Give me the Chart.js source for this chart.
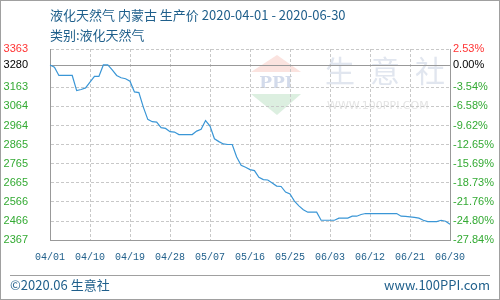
<!DOCTYPE html>
<html><head><meta charset="utf-8">
<script src="https://cdn.jsdelivr.net/npm/chart.js@4"></script>
<style>
html,body{margin:0;padding:0;background:#fff;}
#wrap{position:relative;width:500px;height:300px;overflow:hidden;background:#fff;font-family:"Noto Sans CJK SC",sans-serif;}
#c{position:absolute;left:0;top:0;width:500px;height:300px;}
.t{position:absolute;color:#1f5f8b;font-size:13px;line-height:16px;white-space:nowrap;}
#frame{position:absolute;left:0;top:0;width:498px;height:298px;border:1px solid #a0a0a0;pointer-events:none;}
#sep{position:absolute;left:10px;top:275px;width:480px;height:1px;background:#a0a0a0;}
</style></head><body>
<div id="wrap">
<canvas id="c" width="500" height="300"></canvas>
<div class="t" style="left:50px;top:7px">液化天然气 内蒙古 生产价 2020-04-01 - 2020-06-30</div>
<div class="t" style="left:50px;top:27px">类别:液化天然气</div>
<div id="sep"></div>
<div class="t" style="left:10px;top:277px">©2020.06 生意社</div>
<div class="t" style="right:10px;top:277px">www.100PPI.com</div>
<div id="frame"></div>
</div>
<script>
// daily categories 2020-04-01 .. 2020-06-30
const categories = [];
(function(){
  const d = new Date(2020, 3, 1);
  while (d <= new Date(2020, 5, 30)) {
    const m = String(d.getMonth() + 1).padStart(2, '0');
    const dd = String(d.getDate()).padStart(2, '0');
    categories.push(m + '/' + dd);
    d.setDate(d.getDate() + 1);
  }
})();

const prices = [
  3280, 3268, 3225, 3225, 3225, 3225, 3146, 3152, 3160, 3190,
  3220, 3220, 3280, 3280, 3254, 3225, 3213, 3208, 3195, 3139,
  3136, 3060, 2996, 2984, 2982, 2953, 2949, 2932, 2930, 2917,
  2917, 2917, 2917, 2935, 2944, 2990, 2961, 2895, 2880, 2868,
  2865, 2865, 2800, 2756, 2746, 2734, 2729, 2694, 2682, 2680,
  2664, 2648, 2646, 2617, 2607, 2570, 2545, 2525, 2512, 2512,
  2512, 2470, 2470, 2470, 2470, 2481, 2481, 2481, 2491, 2491,
  2500, 2505, 2505, 2505, 2505, 2505, 2505, 2505, 2505, 2491,
  2490, 2488, 2485, 2481, 2470, 2463, 2463, 2463, 2470, 2465,
  2449
];

const leftTicks = [3363, 3280, 3163, 3064, 2964, 2865, 2765, 2665, 2566, 2466, 2367];
const rightTickLabels = ['2.53%', '0.00%', '-3.54%', '-6.58%', '-9.62%', '-12.65%', '-15.69%', '-18.73%', '-21.76%', '-24.80%', '-27.84%'];
const baseValue = 3280;
const xTickEvery = 9;

const tickColor = v => v === leftTicks[0] ? '#ff3333' : (v === baseValue ? '#000000' : '#33aa33');

const watermark = {
  id: 'watermark',
  beforeDraw(chart) {
    const ctx = chart.ctx;
    ctx.save();
    ctx.fillStyle = '#fff';
    ctx.fillRect(0, 0, chart.width, chart.height);
    // logo
    ctx.fillStyle = '#fbe3df';
    ctx.beginPath(); ctx.moveTo(251, 72); ctx.lineTo(277, 55); ctx.lineTo(301, 72); ctx.closePath(); ctx.fill();
    ctx.fillStyle = '#dcefe0';
    ctx.beginPath(); ctx.moveTo(251, 94); ctx.lineTo(301, 94); ctx.lineTo(277, 115); ctx.closePath(); ctx.fill();
    ctx.fillStyle = '#d3dbeb';
    ctx.font = 'bold 17px "DejaVu Serif", serif';
    ctx.textAlign = 'center'; ctx.textBaseline = 'middle';
    ctx.fillText('PPI', 276, 84);
    // big chars
    ctx.fillStyle = '#e1e6ef';
    ctx.font = '30px "Noto Sans CJK SC", sans-serif';
    ctx.fillText('生', 340, 71);
    ctx.fillText('意', 385, 71);
    ctx.fillText('社', 430, 71);
    ctx.fillStyle = '#e4e4e4';
    ctx.font = '11px "DejaVu Sans", sans-serif';
    ctx.textAlign = 'left';
    ctx.fillText('WWW.100PPI.COM', 327, 106);
    ctx.restore();
  },
  beforeDatasetsDraw(chart) {
    const ctx = chart.ctx, a = chart.chartArea;
    const y = Math.round(chart.scales.y.getPixelForValue(baseValue)) + 0.5;
    ctx.save();
    ctx.strokeStyle = '#999999';
    ctx.lineWidth = 1;
    ctx.beginPath(); ctx.moveTo(a.left, y); ctx.lineTo(a.right, y); ctx.stroke();
    ctx.restore();
  }
};

new Chart(document.getElementById('c'), {
  type: 'line',
  data: {
    labels: categories,
    datasets: [{
      data: prices,
      borderColor: '#3a96d6',
      borderWidth: 1.2,
      pointRadius: 0,
      tension: 0,
      fill: false
    }]
  },
  options: {
    responsive: false,
    animation: false,
    devicePixelRatio: 1,
    layout: { padding: { top: 49, left: 0, right: 0, bottom: 0 } },
    plugins: { legend: { display: false }, tooltip: { enabled: false } },
    scales: {
      x: {
        offset: false,
        afterFit: s => { s.height = 60; },
        grid: {
          drawTicks: false,
          color: c => (c.index % xTickEvery === 0) ? '#c8c8c8' : 'rgba(0,0,0,0)',
          lineWidth: 1
        },
        border: { display: true, color: '#999999', width: 1, dash: [3, 2] },
        ticks: {
          autoSkip: false, maxRotation: 0, minRotation: 0, padding: 11,
          color: '#1f5f8b',
          font: { family: '"Liberation Mono", monospace', size: 10 },
          callback: function(v, i) { return i % xTickEvery === 0 ? this.getLabelForValue(v) : ''; }
        }
      },
      y: {
        position: 'left',
        min: 2367, max: 3363,
        afterFit: s => { s.width = 50; },
        afterBuildTicks: s => { s.ticks = leftTicks.slice().reverse().map(v => ({ value: v })); },
        grid: {
          drawTicks: false,
          color: c => (c.tick && c.tick.value === baseValue) ? 'rgba(0,0,0,0)' : '#c8c8c8',
          lineWidth: 1
        },
        border: { display: true, color: '#999999', width: 1, dash: [3, 2] },
        ticks: {
          padding: 22,
          color: c => tickColor(c.tick.value),
          font: { family: '"Liberation Sans", Arial, sans-serif', size: 11 },
          callback: v => String(v)
        }
      },
      y2: {
        position: 'right',
        min: 2367, max: 3363,
        afterFit: s => { s.width = 50; },
        afterBuildTicks: s => { s.ticks = leftTicks.slice().reverse().map(v => ({ value: v })); },
        grid: { display: false, drawTicks: false },
        border: { display: true, color: '#999999', width: 1 },
        ticks: {
          padding: 3,
          color: c => tickColor(c.tick.value),
          font: { family: '"Liberation Sans", Arial, sans-serif', size: 11 },
          callback: v => rightTickLabels[leftTicks.indexOf(v)]
        }
      }
    }
  },
  plugins: [watermark]
});
</script>
</body></html>
